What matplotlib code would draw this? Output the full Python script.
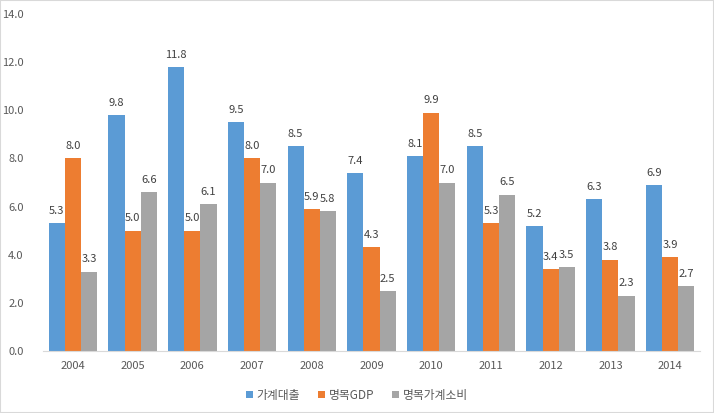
import matplotlib.pyplot as plt
import numpy as np
from matplotlib.patches import Rectangle

plt.rcParams['font.family'] = ['Noto Sans CJK KR', 'DejaVu Sans']

years = ['2004', '2005', '2006', '2007', '2008', '2009', '2010', '2011', '2012', '2013', '2014']
loans = [5.3, 9.8, 11.8, 9.5, 8.5, 7.4, 8.1, 8.5, 5.2, 6.3, 6.9]
gdp = [8.0, 5.0, 5.0, 8.0, 5.9, 4.3, 9.9, 5.3, 3.4, 3.8, 3.9]
consumption = [3.3, 6.6, 6.1, 7.0, 5.8, 2.5, 7.0, 6.5, 3.5, 2.3, 2.7]
series_names = ['가계대출', '명목GDP', '명목가계소비']
colors = ['#5B9BD5', '#ED7D31', '#A5A5A5']
text_color = '#595959'

fig = plt.figure(figsize=(7.14, 4.13), dpi=100)
ax = fig.add_axes([43 / 714, 62 / 413, 657 / 714, 337 / 413])

x = np.arange(len(years))
w = 0.27
for i, (vals, name, c) in enumerate(zip([loans, gdp, consumption], series_names, colors)):
  pos = x + (i - 1) * w
  ax.bar(pos, vals, width=w, color=c, label=name)
  for px, v in zip(pos, vals):
    ax.text(px, v + 0.3, f'{v:.1f}', ha='center', va='bottom', fontsize=8, color='#404040')

ax.set_xlim(-0.5, len(years) - 0.5)
ax.set_ylim(0, 14)
ax.set_yticks(np.arange(0, 14.1, 2))
ax.set_yticklabels([f'{v:.1f}' for v in np.arange(0, 14.1, 2)])
ax.set_xticks(x)
ax.set_xticklabels(years)
ax.tick_params(axis='both', length=0, labelsize=8, labelcolor=text_color)
ax.tick_params(axis='y', pad=14)
ax.tick_params(axis='x', pad=7)
for s in ['top', 'right', 'left']:
  ax.spines[s].set_visible(False)
ax.spines['bottom'].set_color('#D9D9D9')

leg = fig.legend(loc='center', bbox_to_anchor=(0.5, 18 / 413), ncol=3, frameon=False,
                 fontsize=8.5, handlelength=0.6, handleheight=0.6, handletextpad=0.3,
                 columnspacing=1.5)
for t in leg.get_texts():
  t.set_color(text_color)

fig.patches.append(Rectangle((0, 0), 1, 1, transform=fig.transFigure, fill=False,
                             edgecolor='#D9D9D9', linewidth=1.5))

fig.savefig('out.png', dpi=100)
